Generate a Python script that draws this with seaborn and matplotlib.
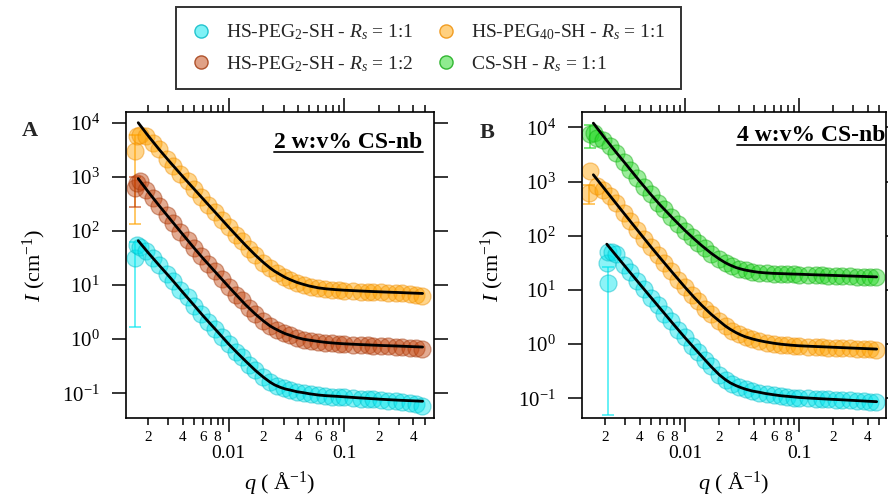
import numpy as np
import pandas as pd
import matplotlib
matplotlib.use("Agg")
import matplotlib.pyplot as plt
import seaborn as sns
from matplotlib.ticker import FixedLocator, FuncFormatter, NullLocator, LogFormatterSciNotation
from matplotlib.lines import Line2D
from matplotlib.colors import to_rgba

# ---------------- data ----------------
q_data = [0.0017, 0.0019, 0.0022, 0.0025, 0.0029, 0.0033, 0.0038, 0.0044, 0.005, 0.0058,
          0.0066, 0.0076, 0.0087, 0.01, 0.0115, 0.013, 0.015, 0.017, 0.02, 0.023,
          0.026, 0.03, 0.034, 0.039, 0.045, 0.052, 0.06, 0.069, 0.079, 0.09,
          0.1, 0.12, 0.14, 0.16, 0.18, 0.21, 0.24, 0.28, 0.32, 0.37, 0.42, 0.47]

# Panel A (2 w:v% CS-nb)
A_peg40_11 = [6000, 5800, 4300, 3200, 2150, 1600, 1120, 820, 590, 425,
              305, 226, 160, 118, 84, 65, 46, 36, 25.5, 20.5,
              17.0, 14.2, 12.6, 11.0, 10.0, 9.3, 8.7, 8.4, 8.1, 7.95,
              7.85, 7.7, 7.6, 7.5, 7.4, 7.3, 7.2, 7.1, 7.0, 6.85, 6.6, 6.3]
A_peg2_12 = [830, 560, 400, 292, 195, 142, 96, 68, 48, 34,
             24.2, 18, 12.7, 9.4, 6.6, 5.2, 3.7, 2.95, 2.15, 1.76,
             1.49, 1.29, 1.17, 1.06, 0.98, 0.93, 0.89, 0.86, 0.835, 0.815,
             0.80, 0.785, 0.775, 0.765, 0.755, 0.745, 0.735, 0.725, 0.715, 0.70, 0.685, 0.66]
A_peg2_11 = [50, 43, 31, 23.5, 16, 11.9, 8.2, 5.9, 4.15, 2.97,
             2.1, 1.57, 1.1, 0.82, 0.585, 0.465, 0.34, 0.268, 0.196, 0.16,
             0.139, 0.124, 0.116, 0.107, 0.101, 0.096, 0.092, 0.089, 0.087, 0.085,
             0.084, 0.081, 0.079, 0.078, 0.077, 0.075, 0.073, 0.071, 0.069, 0.066, 0.063, 0.059]
A_low_q = [0.00155, 0.0016]
A_low_peg40_11 = [3000, 5600]
A_low_peg2_12 = [630, 780]
A_low_peg2_11 = [32, 56]
A_err_q = 0.00155
A_err_peg40_11 = 2864
A_err_peg2_12 = 350
A_err_peg2_11 = 30.3

qA_fit = [0.00164, 0.002, 0.0025, 0.0031, 0.004, 0.005, 0.006, 0.008, 0.01, 0.012,
          0.014, 0.017, 0.02, 0.0228, 0.025, 0.028, 0.031, 0.034, 0.039, 0.0444,
          0.05, 0.06, 0.07, 0.085, 0.1, 0.13, 0.17, 0.22, 0.3, 0.38, 0.48]
A_fit_peg40_11 = [10000, 5741, 3177, 1862, 1009, 597, 389, 198, 117, 76.9,
                  54.3, 35.8, 26.1, 20.7, 18.0, 15.6, 13.8, 12.6, 11.2, 10.3,
                  9.6, 8.87, 8.51, 8.22, 8.04, 7.82, 7.62, 7.45, 7.28, 7.13, 7.0]
A_fit_peg2_12 = [929, 530, 290, 166, 85.9, 48.5, 30.9, 15.7, 9.29, 6.11,
                 4.32, 2.91, 2.17, 1.76, 1.57, 1.39, 1.26, 1.18, 1.07, 1.0,
                 0.96, 0.908, 0.871, 0.841, 0.822, 0.80, 0.78, 0.762, 0.745, 0.73, 0.716]
A_fit_peg2_11 = [66, 39.7, 23.0, 13.8, 7.31, 4.23, 2.69, 1.37, 0.809, 0.545,
                 0.394, 0.265, 0.198, 0.161, 0.143, 0.129, 0.120, 0.115, 0.107, 0.1026,
                 0.098, 0.0929, 0.0902, 0.0881, 0.0861, 0.0828, 0.0798, 0.0771, 0.0745, 0.0729, 0.0714]

# Panel B (4 w:v% CS-nb)
B_cssh_11 = [6500, 5800, 4500, 3400, 2330, 1650, 1180, 800, 590, 405,
             310, 220, 168, 123, 96, 74, 59, 47, 37.5, 31,
             27.3, 24.5, 23.0, 21.7, 20.8, 20.3, 19.9, 19.6, 19.4, 19.3,
             19.2, 18.9, 18.7, 18.5, 18.4, 18.2, 18.0, 17.8, 17.6, 17.4, 17.2, 17.0]
B_peg40_11 = [820, 700, 540, 395, 260, 189, 127, 89, 62, 44,
              30.8, 22.4, 15.5, 11.4, 7.9, 6.2, 4.45, 3.6, 2.62, 2.12,
              1.77, 1.56, 1.36, 1.23, 1.14, 1.07, 1.02, 0.98, 0.95, 0.93,
              0.915, 0.90, 0.885, 0.875, 0.865, 0.85, 0.84, 0.83, 0.82, 0.81, 0.795, 0.78]
q_data_B_cyan = q_data[3:]
B_peg2_11 = [46, 28.5, 21.3, 14.4, 10.4, 7.2, 5.2, 3.6, 2.65, 1.8,
             1.33, 0.92, 0.72, 0.50, 0.39, 0.268, 0.214, 0.182, 0.163, 0.146,
             0.134, 0.127, 0.12, 0.114, 0.110, 0.106, 0.103, 0.101, 0.099, 0.097,
             0.096, 0.095, 0.094, 0.092, 0.091, 0.089, 0.088, 0.087, 0.086]
B_low_q_green = [0.00147, 0.0016]
B_low_cssh_11 = [7600, 8000]
B_low_q_orange = [0.00145, 0.00148]
B_low_peg40_11 = [620, 1600]
B_low_q_cyan = [0.00205, 0.00212, 0.0021, 0.0023]
B_low_peg2_11 = [31, 13.3, 51, 50]
B_err_q_green, B_err_cssh_11 = 0.00147, 3400
B_err_q_orange, B_err_peg40_11 = 0.00145, 235
B_err_q_cyan, B_err_peg2_11 = 0.00212, 13.25

qB_fit = [0.00157, 0.002, 0.0025, 0.003, 0.004, 0.005, 0.006, 0.008, 0.01, 0.012,
          0.014, 0.017, 0.02, 0.0225, 0.025, 0.028, 0.031, 0.034, 0.039, 0.044,
          0.05, 0.06, 0.07, 0.085, 0.1, 0.13, 0.17, 0.22, 0.3, 0.38, 0.48]
B_fit_cssh_11 = [12000, 6180, 3420, 2153, 1019, 583, 377, 200, 125, 87.7,
                 65.9, 47.4, 37.2, 31.9, 28.6, 25.9, 24.3, 23.2, 22.0, 21.2,
                 20.7, 20.2, 20.0, 19.7, 19.5, 19.1, 18.75, 18.4, 18.0, 17.7, 17.4]
B_fit_peg40_11 = [1337, 703, 389, 240, 113, 63.2, 39.8, 19.4, 11.2, 7.31,
                  5.21, 3.54, 2.66, 2.17, 1.87, 1.63, 1.47, 1.36, 1.245, 1.17,
                  1.107, 1.037, 0.993, 0.955, 0.931, 0.908, 0.887, 0.867, 0.843, 0.826, 0.809]
qB_fit_cyan = [0.00206, 0.0025, 0.003, 0.004, 0.005, 0.006, 0.008, 0.01, 0.012,
               0.014, 0.017, 0.02, 0.0225, 0.025, 0.028, 0.031, 0.034, 0.039, 0.044,
               0.05, 0.06, 0.07, 0.085, 0.1, 0.13, 0.17, 0.22, 0.3, 0.38, 0.48]
B_fit_peg2_11 = [70, 42.6, 26.8, 12.9, 7.36, 4.66, 2.27, 1.31, 0.855,
                 0.596, 0.382, 0.271, 0.222, 0.192, 0.171, 0.157, 0.147, 0.136, 0.130,
                 0.123, 0.116, 0.111, 0.107, 0.1035, 0.100, 0.097, 0.0944, 0.0912, 0.0887, 0.0865]

legend_labels = ['HS-PEG$_2$-SH - $R_s$ = 1:1', 'HS-PEG$_2$-SH - $R_s$ = 1:2',
                 'HS-PEG$_{40}$-SH - $R_s$ = 1:1', 'CS-SH - $R_s$ = 1:1']
x_major_ticks = [0.01, 0.1]
y_major_ticks = [1e-1, 1e0, 1e1, 1e2, 1e3, 1e4]

# ---------------- style ----------------
sns.set_theme(style="white")
plt.rcParams['font.family'] = ['Liberation Serif', 'DejaVu Serif']
plt.rcParams['mathtext.fontset'] = 'custom'
plt.rcParams['mathtext.rm'] = 'Liberation Serif'
plt.rcParams['mathtext.it'] = 'Liberation Serif:italic'
plt.rcParams['mathtext.bf'] = 'Liberation Serif:bold'

COL = {
    'cyan': ('#00E6EE', '#00B8C4'),
    'brown': ('#C3450E', '#A0360A'),
    'orange': ('#FFA300', '#EE8C00'),
    'green': ('#22D822', '#10A810'),
}

fig = plt.figure(figsize=(8.88, 4.96), dpi=100)
W, H = 888.0, 496.0
axA = fig.add_axes([126 / W, (H - 418.3) / H, 308 / W, 306.3 / H])
axB = fig.add_axes([582.3 / W, (H - 418.3) / H, 303.7 / W, 306.3 / H])


def scatter(ax, q, I, key):
    face, edge = COL[key]
    sns.scatterplot(x=q, y=I, ax=ax, s=150, color=face, edgecolor=edge, linewidth=0.9,
                    alpha=0.45, legend=False, zorder=2)


def errbar(ax, q, I, e, key):
    face, edge = COL[key]
    ax.errorbar([q], [I], yerr=[e], fmt='none', ecolor=face, alpha=0.6,
                elinewidth=1.4, capsize=4, capthick=1.4, zorder=1)


def fit(ax, q, I):
    sns.lineplot(x=q, y=I, ax=ax, color='black', linewidth=2.0, estimator=None,
                 sort=False, legend=False, zorder=3)


def minor_fmt(v, pos):
    e = np.floor(np.log10(v) + 1e-9)
    d = int(round(v / 10 ** e))
    return str(d) if d in (2, 4, 6, 8) else ''


def style_axes(ax, xlim, ylim):
    ax.set_xscale('log')
    ax.set_yscale('log')
    ax.set_xlim(*xlim)
    ax.set_ylim(*ylim)
    ax.xaxis.set_major_locator(FixedLocator(x_major_ticks))
    ax.xaxis.set_major_formatter(FuncFormatter(lambda v, p: f'{v:g}'))
    minors = [k * 10.0 ** e for e in (-3, -2, -1) for k in range(2, 10)]
    minors = [m for m in minors if xlim[0] < m < xlim[1] * 0.97]
    ax.xaxis.set_minor_locator(FixedLocator(minors))
    ax.xaxis.set_minor_formatter(FuncFormatter(minor_fmt))
    ax.yaxis.set_major_locator(FixedLocator(y_major_ticks))
    ax.yaxis.set_major_formatter(LogFormatterSciNotation())
    ax.yaxis.set_minor_locator(NullLocator())
    ax.tick_params(axis='both', which='both', direction='out', bottom=True, left=True,
                   top=True, right=True, labeltop=False, labelright=False,
                   width=1.1, color='black', labelcolor='black')
    ax.tick_params(axis='x', which='major', length=10, pad=9, labelsize=14)
    ax.tick_params(axis='x', which='minor', length=5, pad=4.5, labelsize=11)
    ax.tick_params(axis='y', which='major', length=10, pad=9, labelsize=15)
    for s in ax.spines.values():
        s.set_color('black')
        s.set_linewidth(1.2)
        s.set_visible(True)
    ax.set_xlabel(r'$q$ ( Å$^{-1}$)', fontsize=16, color='black')
    ax.set_ylabel(r'$I$ (cm$^{-1}$)', fontsize=16, color='black')
    ax.xaxis.set_label_coords(0.5, -0.165)
    ax.yaxis.set_label_coords(-0.252, 0.5)


# Panel A
scatter(axA, A_low_q + q_data, A_low_peg40_11 + A_peg40_11, 'orange')
scatter(axA, A_low_q + q_data, A_low_peg2_12 + A_peg2_12, 'brown')
scatter(axA, A_low_q + q_data, A_low_peg2_11 + A_peg2_11, 'cyan')
errbar(axA, A_err_q, A_low_peg40_11[0], A_err_peg40_11, 'orange')
errbar(axA, A_err_q, A_low_peg2_12[0], A_err_peg2_12, 'brown')
errbar(axA, A_err_q, A_low_peg2_11[0], A_err_peg2_11, 'cyan')
fit(axA, qA_fit, A_fit_peg40_11)
fit(axA, qA_fit, A_fit_peg2_12)
fit(axA, qA_fit, A_fit_peg2_11)
style_axes(axA, (0.001285, 0.6026), (10 ** -1.462, 10 ** 4.198))

# Panel B
scatter(axB, B_low_q_green + q_data, B_low_cssh_11 + B_cssh_11, 'green')
scatter(axB, B_low_q_orange + q_data, B_low_peg40_11 + B_peg40_11, 'orange')
scatter(axB, B_low_q_cyan + q_data_B_cyan, B_low_peg2_11 + B_peg2_11, 'cyan')
errbar(axB, B_err_q_green, B_low_cssh_11[0], B_err_cssh_11, 'green')
errbar(axB, B_err_q_orange, B_low_peg40_11[0], B_err_peg40_11, 'orange')
errbar(axB, B_err_q_cyan, B_low_peg2_11[1], B_err_peg2_11, 'cyan')
fit(axB, qB_fit, B_fit_cssh_11)
fit(axB, qB_fit, B_fit_peg40_11)
fit(axB, qB_fit_cyan, B_fit_peg2_11)
style_axes(axB, (0.001256, 0.5794), (10 ** -1.370, 10 ** 4.285))

# titles (bold, underlined)
tA = axA.text(0.963, 0.901, '2 w:v% CS-nb', transform=axA.transAxes, ha='right',
              va='center', fontsize=17, fontweight='bold', color='black')
tB = axB.text(0.998, 0.922, '4 w:v% CS-nb', transform=axB.transAxes, ha='right',
              va='center', fontsize=17, fontweight='bold', color='black')
fig.canvas.draw()
r = fig.canvas.get_renderer()
for ax, t in ((axA, tA), (axB, tB)):
    bb = t.get_window_extent(renderer=r)
    inv = ax.transAxes.inverted()
    (x0, y0), (x1, _) = inv.transform([(bb.x0, bb.y0 + 1), (bb.x1, bb.y0)])
    ax.add_line(Line2D([x0, x1], [y0, y0], transform=ax.transAxes, color='#222222',
                       lw=1.4, clip_on=False))

fig.text(30 / W, 1 - 131 / H, 'A', fontsize=16, fontweight='bold', ha='center', va='center')
fig.text(487 / W, 1 - 133 / H, 'B', fontsize=16, fontweight='bold', ha='center', va='center')

# legend
handles = []
for key in ('cyan', 'brown', 'orange', 'green'):
    face, edge = COL[key]
    handles.append(Line2D([], [], ls='none', marker='o', markersize=9.5,
                          markerfacecolor=to_rgba(face, 0.5), markeredgecolor=to_rgba(edge, 0.8),
                          markeredgewidth=1.0))
leg = fig.legend(handles, legend_labels, loc='upper left', bbox_to_anchor=(176 / W, 1 - 7 / H),
                 ncol=2, fontsize=14, frameon=True, fancybox=False, edgecolor='black',
                 borderaxespad=0, handlelength=1.0, handletextpad=0.75,
                 columnspacing=1.2, labelspacing=0.6, borderpad=0.8)
leg.get_frame().set_linewidth(1.4)
leg.get_frame().set_facecolor('white')

fig.savefig('out.png', dpi=100)
